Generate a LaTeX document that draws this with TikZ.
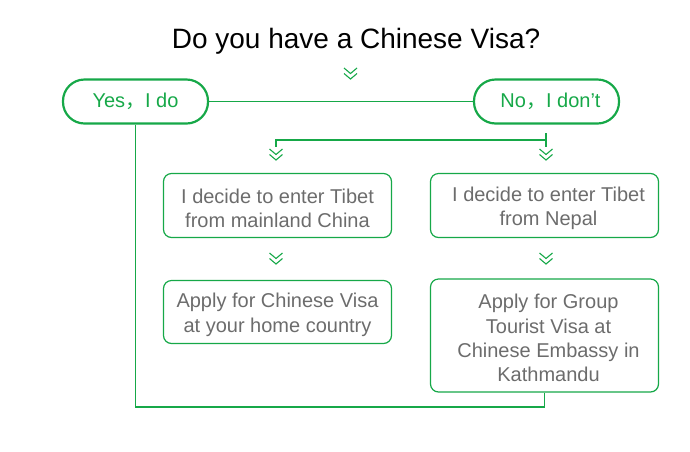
\documentclass[tikz,border=0pt]{standalone}
\usepackage{fontspec}
\setmainfont{Liberation Sans}
\newfontfamily\cjkfont{Noto Sans CJK SC}
\definecolor{vgreen}{RGB}{22,168,72}
\definecolor{vgray}{RGB}{108,108,108}
\newcommand{\toppad}{\rule{0pt}{20pt}}
\begin{document}
\begin{tikzpicture}[x=1pt,y=-1pt,
  answer/.style={draw=vgreen, line width=2.2pt, rounded corners=21.5pt,
    minimum width=145pt, minimum height=44pt, inner sep=0pt, text=vgreen,
    font=\fontsize{20}{24}\selectfont},
  stepbox/.style={draw=vgreen, line width=1.2pt, rounded corners=8pt,
    minimum width=228pt, inner sep=0pt, text=vgray, align=center,
    font=\fontsize{20}{24.3}\selectfont},
  conn/.style={draw=vgreen, line width=1.3pt},
  chev/.pic={\draw[vgreen, line width=1.1pt] (-6.5,0)--(0,5.5)--(6.5,0) (-6.5,5.5)--(0,11)--(6.5,5.5);}
]
\useasboundingbox (0,0) rectangle (690,451);
\node[anchor=base, font=\fontsize{28}{30}\selectfont] (title) at (356,48) {Do you have a Chinese Visa?};
\pic at (350.5,68) {chev};
\node[answer] (yes) at (135.5,101.5) {Yes{\cjkfont ，}I do};
\node[answer] (no) at (546.5,101.5) {\hspace*{8pt}No{\cjkfont ，}I don’t};
\node[stepbox, minimum height=64pt] (a) at (277.5,205.5) {\toppad I decide to enter Tibet\\from mainland China};
\node[stepbox, minimum height=64pt] (b) at (544.5,205.5) {\toppad\hspace*{8pt}I decide to enter Tibet\\\hspace*{8pt}from Nepal};
\node[stepbox, minimum height=63pt] (c) at (277.5,312) {\toppad Apply for Chinese Visa\\at your home country};
\node[stepbox, minimum height=113pt] (d) at (544.5,335.5) {\toppad\hspace*{8pt}Apply for Group\\\hspace*{8pt}Tourist Visa at\\\hspace*{8pt}Chinese Embassy in\\\hspace*{8pt}Kathmandu};
\pic at (276,149) {chev};
\pic at (546,149) {chev};
\pic at (276,253) {chev};
\pic at (546,253) {chev};
\coordinate (nsplit) at (546,133);
\coordinate (nfork) at (546,140);
\coordinate (lend) at (276,147);
\coordinate (bottom) at (0,407);
\draw[conn] (yes.east) -- (no.west);
\draw[conn] (nsplit) -- (nsplit |- lend);
\draw[conn] (nfork) -| (lend);
\draw[conn] (yes.south) -- (yes.south |- bottom) -| (d.south);
\end{tikzpicture}
\end{document}
